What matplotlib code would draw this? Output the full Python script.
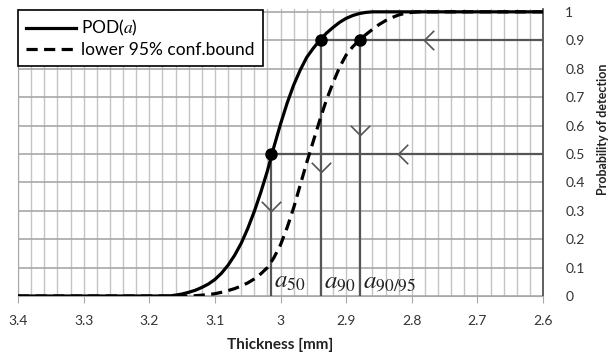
import matplotlib
matplotlib.use('Agg')
import matplotlib.pyplot as plt
from matplotlib.path import Path
from matplotlib.ticker import MultipleLocator, FuncFormatter
import numpy as np

plt.rcParams.update({
    'font.family': ['Lato', 'DejaVu Sans'],
    'mathtext.fontset': 'stix',
})

# POD(a) curve (thickness in mm, probability)
pod_t = [3.40, 3.30, 3.20, 3.17, 3.16, 3.15, 3.14, 3.13, 3.12, 3.11, 3.10,
         3.09, 3.08, 3.07, 3.06, 3.05, 3.04, 3.03, 3.02, 3.01, 3.00, 2.99,
         2.98, 2.97, 2.96, 2.95, 2.94, 2.93, 2.92, 2.91, 2.90, 2.89, 2.88,
         2.87, 2.86, 2.80, 2.70, 2.60]
pod_p = [0.0, 0.0, 0.0, 0.0, 0.003, 0.007, 0.013, 0.020, 0.030, 0.042, 0.058,
         0.080, 0.108, 0.143, 0.185, 0.237, 0.297, 0.365, 0.440, 0.525, 0.605,
         0.678, 0.742, 0.795, 0.840, 0.872, 0.900, 0.925, 0.945, 0.963, 0.977,
         0.987, 0.994, 0.998, 1.0, 1.0, 1.0, 1.0]

# lower 95% confidence bound
low_t = [3.40, 3.30, 3.20, 3.14, 3.13, 3.12, 3.11, 3.10, 3.09, 3.08, 3.07,
         3.06, 3.05, 3.04, 3.03, 3.02, 3.01, 3.00, 2.99, 2.98, 2.97, 2.96,
         2.95, 2.94, 2.93, 2.92, 2.91, 2.90, 2.89, 2.88, 2.87, 2.86, 2.85,
         2.84, 2.83, 2.82, 2.81, 2.80, 2.79, 2.70, 2.60]
low_p = [0.0, 0.0, 0.0, 0.0, 0.001, 0.003, 0.005, 0.008, 0.013, 0.019, 0.026,
         0.035, 0.046, 0.060, 0.078, 0.100, 0.135, 0.180, 0.240, 0.310, 0.390,
         0.470, 0.545, 0.620, 0.690, 0.750, 0.805, 0.848, 0.877, 0.900, 0.920,
         0.938, 0.955, 0.969, 0.980, 0.989, 0.995, 0.998, 1.0, 1.0, 1.0]

# characteristic points
a50, a90, a9095 = 3.014, 2.938, 2.879
level_names = [r'$a_{50}$', r'$a_{90}$', r'$a_{90/95}$']
level_t = [a50, a90, a9095]
level_p = [0.5, 0.9, 0.9]

# arrow heads on the guide lines
left_arrow_t = [2.781, 2.821]
left_arrow_p = [0.9, 0.5]
down_arrow_t = [a50, a90, a9095]
down_arrow_p = [0.30, 0.438, 0.567]

guide = '#555555'

fig = plt.figure(figsize=(6.12, 3.55), dpi=100)
ax = fig.add_axes([18 / 612, 1 - 296 / 355, 525 / 612, 287 / 355])

ax.set_xlim(3.4, 2.6)
ax.set_ylim(0, 1.01)

# grid
ax.xaxis.set_major_locator(MultipleLocator(0.1))
ax.xaxis.set_minor_locator(MultipleLocator(0.02))
ax.yaxis.set_major_locator(MultipleLocator(0.1))
ax.grid(which='both', axis='x', color='#c4c4c4', linewidth=1.0)
ax.grid(which='major', axis='y', color='#a8a8a8', linewidth=1.2)
ax.set_axisbelow(True)

fmt = FuncFormatter(lambda v, pos: f'{v:.1f}'.rstrip('0').rstrip('.') if abs(v) > 1e-9 else '0')
ax.xaxis.set_major_formatter(fmt)
ax.yaxis.set_major_formatter(fmt)

ax.yaxis.tick_right()
ax.yaxis.set_label_position('right')
ax.tick_params(axis='x', which='major', length=5, color='#a8a8a8', pad=9,
               labelsize=10, labelcolor='#333333')
ax.tick_params(axis='x', which='minor', length=0)
ax.tick_params(axis='y', length=0, pad=16, labelsize=10, labelcolor='#333333')
for lab in ax.get_yticklabels():
    lab.set_horizontalalignment('left')

ax.spines['top'].set_visible(False)
ax.spines['left'].set_color('#a8a8a8')
ax.spines['bottom'].set_color('#a8a8a8')
ax.spines['right'].set_color('#444444')
ax.spines['right'].set_linewidth(1.2)

# guide lines
for t, p in zip(level_t, level_p):
    ax.plot([t, t], [0, p], color=guide, lw=1.6, zorder=3)
ax.plot([a50, 2.6], [0.5, 0.5], color=guide, lw=1.6, zorder=3)
ax.plot([a90, 2.6], [0.9, 0.9], color=guide, lw=1.6, zorder=3)

left_chev = Path([(1, 1), (0, 0), (1, -1)])
down_chev = Path([(-1, 1), (0, 0), (1, 1)])
ax.plot(left_arrow_t, left_arrow_p, ls='none', marker=left_chev, ms=14,
        mfc='none', mec=guide, mew=1.2, zorder=4)
ax.plot(down_arrow_t, down_arrow_p, ls='none', marker=down_chev, ms=14,
        mfc='none', mec=guide, mew=1.2, zorder=4)

# curves
ax.plot(pod_t, pod_p, color='black', lw=2.3, label=r'POD($a$)', zorder=5)
ax.plot(low_t, low_p, color='black', lw=2.3, ls=(0, (3.5, 2)),
        label='lower 95% conf.bound', zorder=5)

ax.plot(level_t, level_p, ls='none', marker='o', ms=8, color='black', zorder=6)

for name, t in zip(level_names, level_t):
    ax.text(t - 0.004, 0.03, name, fontsize=18, ha='left', va='baseline',
            color='#222222', zorder=6)

ax.set_xlabel('Thickness [mm]', fontsize=11, fontweight='bold', color='#222222')
ax.xaxis.set_label_coords(0.5, -0.145)
ax.set_ylabel('Probability of detection', fontsize=9, fontweight='bold',
              color='#222222')
ax.yaxis.set_label_coords(1.103, 0.58)

leg = ax.legend(loc='upper left', bbox_to_anchor=(0, 0.995), borderaxespad=0,
                fontsize=12.5, handlelength=2.9, handletextpad=0.3,
                labelspacing=0.22, fancybox=False, framealpha=1,
                edgecolor='black', borderpad=0.45)
leg.get_frame().set_linewidth(1.2)
leg.set_zorder(7)

fig.savefig('out.png', dpi=100)
